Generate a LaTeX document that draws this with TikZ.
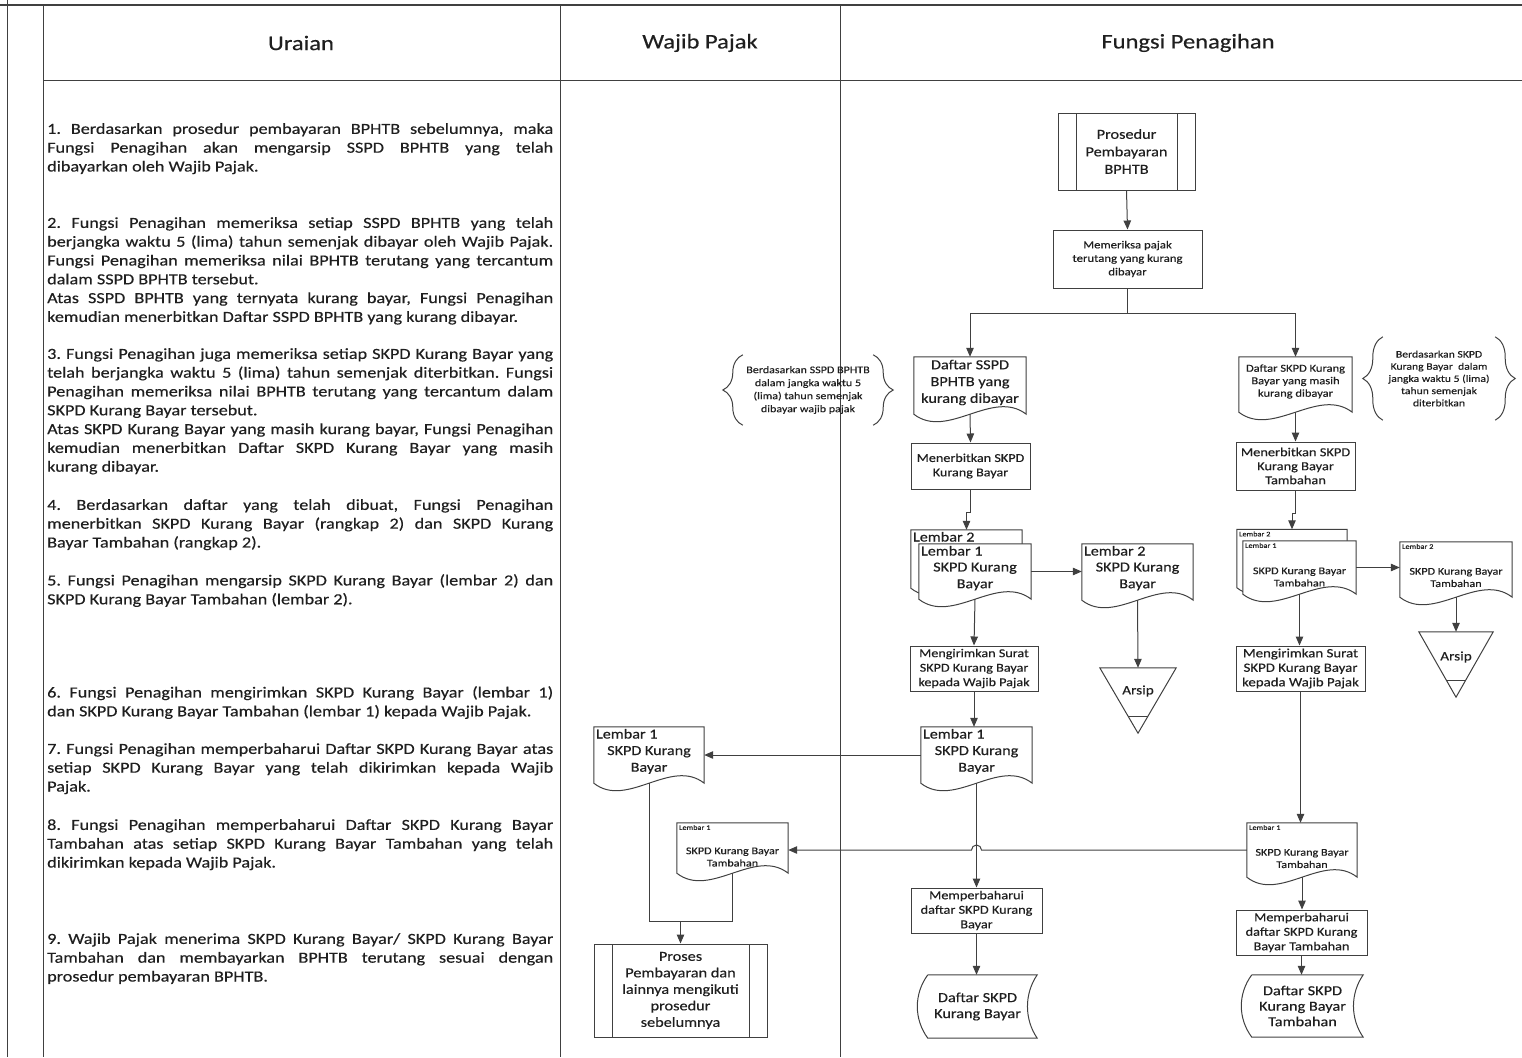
\documentclass[tikz,border=0pt]{standalone}
\usepackage{fontspec}
\setmainfont{Carlito}[FakeStretch=1.18, FakeBold=0.35]
\usetikzlibrary{arrows.meta, calc, backgrounds, decorations.pathreplacing}

\definecolor{ink}{HTML}{1F1F1F}
\definecolor{rule}{HTML}{404040}

\newcommand{\fsz}[2]{\fontsize{#1}{#2}\selectfont}
\frenchspacing

% document sheet with a wavy bottom
\newcommand{\docline}[1]{%
  \draw[flow, fill=white] (#1.north west) -- (#1.north east) -- (#1.south east)
    .. controls ([yshift=26pt]$(#1.south east)!0.3!(#1.south west)$)
    and ([yshift=-26pt]$(#1.south east)!0.7!(#1.south west)$) .. (#1.south west) -- cycle;}

% stored data
\newcommand{\storeline}[1]{%
  \draw[flow] (#1.north west) -- (#1.north east)
    .. controls ($(#1.north east)!0.3!(#1.south east)+(-13pt,0)$)
    and ($(#1.north east)!0.7!(#1.south east)+(-13pt,0)$) .. (#1.south east)
    -- (#1.south west)
    .. controls ($(#1.south west)!0.3!(#1.north west)+(-14pt,0)$)
    and ($(#1.south west)!0.7!(#1.north west)+(-14pt,0)$) .. (#1.north west);}

% archive triangle
\newcommand{\arsipline}[1]{%
  \draw[flow, fill=white] (#1.north west) -- (#1.north east) -- (#1.south) -- cycle;
  \draw[flow] ($(#1.north west)!0.75!(#1.south)$) -- ($(#1.north east)!0.75!(#1.south)$);}

\tikzset{
  frame/.style={draw=rule, line width=0.9pt},
  flow/.style={draw=rule, line width=1pt},
  arr/.style={flow, -{Triangle[length=9pt, width=7.5pt]}},
  hdr/.style={font=\fsz{20.8}{25}, text=ink},
  para/.style={anchor=north west, inner sep=0pt, text width=506pt, align=justify,
    font=\fsz{15.4}{18.8}, text=ink},
  box/.style={draw=rule, line width=1pt, fill=white, align=center, inner sep=1pt, text=ink},
  proc/.style={box, path picture={
    \draw[flow] ([xshift=18pt]path picture bounding box.north west) -- ([xshift=18pt]path picture bounding box.south west)
      ([xshift=-18pt]path picture bounding box.north east) -- ([xshift=-18pt]path picture bounding box.south east);}},
  doc/.style={inner sep=0pt, align=center, text=ink},
  store/.style={inner sep=0pt, align=center, text=ink},
  arsip/.style={inner sep=0pt},
  lem/.style={anchor=north west, inner sep=2pt, text=ink},
  body/.style={align=center, inner sep=0pt, text=ink},
  note/.style={inner sep=0pt, align=center, text=ink},
  brace/.style={flow, decorate, decoration={brace, amplitude=20pt}},
}

\begin{document}
\begin{tikzpicture}[x=1pt, y=-1pt]
  \useasboundingbox (0,0) rectangle (1522,1057);

  % ==========================================
  % 1. TABLE FRAME AND HEADERS
  % ==========================================
  \draw[frame, line width=1.8pt] (0,5) -- (1522,5);
  \draw[frame] (7,0) -- (7,1057);
  \draw[frame] (43,5) -- (43,1057);
  \draw[frame] (560,5) -- (560,1057);
  \draw[frame] (840,5) -- (840,1057);
  \draw[frame] (43,80) -- (1522,80);

  \node[hdr] (hUraian) at (301,43) {Uraian};
  \node[hdr] (hWajib) at (700,43) {Wajib Pajak};
  \node[hdr] (hFungsi) at (1188,43) {Fungsi Penagihan};

  % ==========================================
  % 2. URAIAN
  % ==========================================
  \node[para] (u1) at (47,123) {1. Berdasarkan prosedur pembayaran BPHTB sebelumnya, maka\linebreak
    Fungsi Penagihan akan mengarsip SSPD BPHTB yang telah\linebreak
    dibayarkan oleh Wajib Pajak.};
  \node[para] (u2) at (47,217) {2. Fungsi Penagihan memeriksa setiap SSPD BPHTB yang telah\linebreak
    berjangka waktu 5 (lima) tahun semenjak dibayar oleh Wajib Pajak.\linebreak
    Fungsi Penagihan memeriksa nilai BPHTB terutang yang tercantum\linebreak
    dalam SSPD BPHTB tersebut.\\
    Atas SSPD BPHTB yang ternyata kurang bayar, Fungsi Penagihan\linebreak
    kemudian menerbitkan Daftar SSPD BPHTB yang kurang dibayar.};
  \node[para] (u3) at (47,348) {3. Fungsi Penagihan juga memeriksa setiap SKPD Kurang Bayar yang\linebreak
    telah berjangka waktu 5 (lima) tahun semenjak diterbitkan. Fungsi\linebreak
    Penagihan memeriksa nilai BPHTB terutang yang tercantum dalam\linebreak
    SKPD Kurang Bayar tersebut.\\
    Atas SKPD Kurang Bayar yang masih kurang bayar, Fungsi Penagihan\linebreak
    kemudian menerbitkan Daftar SKPD Kurang Bayar yang masih\linebreak
    kurang dibayar.};
  \node[para] (u4) at (47,499) {4. Berdasarkan daftar yang telah dibuat, Fungsi Penagihan\linebreak
    menerbitkan SKPD Kurang Bayar (rangkap 2) dan SKPD Kurang\linebreak
    Bayar Tambahan (rangkap 2).};
  \node[para] (u5) at (47,574) {5. Fungsi Penagihan mengarsip SKPD Kurang Bayar (lembar 2) dan\linebreak
    SKPD Kurang Bayar Tambahan (lembar 2).};
  \node[para] (u6) at (47,686) {6. Fungsi Penagihan mengirimkan SKPD Kurang Bayar (lembar 1)\linebreak
    dan SKPD Kurang Bayar Tambahan (lembar 1) kepada Wajib Pajak.};
  \node[para] (u7) at (47,743) {7. Fungsi Penagihan memperbaharui Daftar SKPD Kurang Bayar atas\linebreak
    setiap SKPD Kurang Bayar yang telah dikirimkan kepada Wajib\linebreak
    Pajak.};
  \node[para] (u8) at (47,819) {8. Fungsi Penagihan memperbaharui Daftar SKPD Kurang Bayar\linebreak
    Tambahan atas setiap SKPD Kurang Bayar Tambahan yang telah\linebreak
    dikirimkan kepada Wajib Pajak.};
  \node[para] (u9) at (47,933) {9. Wajib Pajak menerima SKPD Kurang Bayar/ SKPD Kurang Bayar\linebreak
    Tambahan dan membayarkan BPHTB terutang sesuai dengan\linebreak
    prosedur pembayaran BPHTB.};

  % ==========================================
  % 3. FUNGSI PENAGIHAN
  % ==========================================
  \node[proc, minimum width=137pt, minimum height=77pt, font=\fsz{13.8}{17.5}] (p1) at (1126.5,151.5)
    {Prosedur\\Pembayaran\\BPHTB};
  \node[box, minimum width=149pt, minimum height=58pt, font=\fsz{10.8}{13.5}] (mp) at (1127.5,259)
    {Memeriksa pajak\\terutang yang kurang\\dibayar};

  % left branch: SKPD Kurang Bayar
  \node[doc, minimum width=112pt, minimum height=57pt,
    label={[body, font=\fsz{13.8}{16.8}, yshift=3pt]center:Daftar SSPD\\BPHTB yang\\kurang dibayar}] (d1) at (970,385.5) {};
  \node[note, minimum width=130pt, minimum height=70pt, font=\fsz{10.2}{13}] (bt1) at (808,390)
    {Berdasarkan SSPD BPHTB\\dalam jangka waktu 5\\(lima) tahun semenjak\\dibayar wajib pajak};
  \node[box, minimum width=119pt, minimum height=46pt, font=\fsz{12}{14.4}] (mskb) at (970.5,466)
    {Menerbitkan SKPD\\Kurang Bayar};
  \node[doc, minimum width=111pt, minimum height=58pt,
    label={[lem, font=\fsz{13.7}{16.7}]north west:Lembar 2}] (skpdb) at (966.5,559) {};
  \node[doc, minimum width=112pt, minimum height=55pt,
    label={[lem, font=\fsz{13.7}{16.7}]north west:Lembar 1},
    label={[body, font=\fsz{13.7}{16.7}, yshift=-5pt]center:SKPD Kurang\\Bayar}] (skpdf) at (975,571.5) {};
  \node[doc, minimum width=111pt, minimum height=56pt,
    label={[lem, font=\fsz{13.7}{16.7}]north west:Lembar 2},
    label={[body, font=\fsz{13.7}{16.7}, yshift=-4.5pt]center:SKPD Kurang\\Bayar}] (skpd2) at (1137.5,572) {};
  \node[arsip, minimum width=76pt, minimum height=65pt,
    label={[body, font=\fsz{13}{15}, yshift=9.5pt]center:Arsip}] (ars1) at (1138,700.5) {};
  \node[box, minimum width=128pt, minimum height=45pt, font=\fsz{12}{14.5}] (kirim1) at (974,668.5)
    {Mengirimkan Surat\\SKPD Kurang Bayar\\kepada Wajib Pajak};
  \node[doc, minimum width=111pt, minimum height=56pt,
    label={[lem, font=\fsz{13.7}{16.7}]north west:Lembar 1},
    label={[body, font=\fsz{13.7}{16.7}, yshift=-5pt]center:SKPD Kurang\\Bayar}] (kb3) at (976.5,755) {};
  \node[box, minimum width=131pt, minimum height=45pt, font=\fsz{12.1}{14.5}] (upd1) at (976.5,910.5)
    {Memperbaharui\\daftar SKPD Kurang\\Bayar};
  \node[store, minimum width=109pt, minimum height=63pt,
    label={[body, font=\fsz{13.8}{16}, xshift=-5pt]center:Daftar SKPD\\Kurang Bayar}] (dsk1) at (982.5,1006.5) {};

  % right branch: SKPD Kurang Bayar Tambahan
  \node[doc, minimum width=113pt, minimum height=55pt,
    label={[body, font=\fsz{10.6}{12.5}, yshift=3pt]center:Daftar SKPD Kurang\\Bayar yang masih\\kurang dibayar}] (dk) at (1295.5,384.5) {};
  \node[note, minimum width=112pt, minimum height=83pt, font=\fsz{9.9}{12.2}] (bt2) at (1439,378.5)
    {Berdasarkan SKPD\\Kurang Bayar\ \ dalam\\jangka waktu 5 (lima)\\tahun semenjak\\diterbitkan};
  \node[box, minimum width=119pt, minimum height=48pt, font=\fsz{12.2}{14}] (mskbt) at (1295.5,466)
    {Menerbitkan SKPD\\Kurang Bayar\\Tambahan};
  \node[doc, minimum width=110pt, minimum height=58pt,
    label={[lem, font=\fsz{7}{8}]north west:Lembar 2}] (kbtb) at (1292,558.5) {};
  \node[doc, minimum width=113pt, minimum height=53pt,
    label={[lem, font=\fsz{7}{8}]north west:Lembar 1},
    label={[body, font=\fsz{10.3}{12.3}, yshift=-9.5pt]center:SKPD Kurang Bayar\\Tambahan}] (kbtf) at (1299.5,567.5) {};
  \node[doc, minimum width=112pt, minimum height=55pt,
    label={[lem, font=\fsz{7}{8}]north west:Lembar 2},
    label={[body, font=\fsz{10.3}{12.3}, yshift=-8pt]center:SKPD Kurang Bayar\\Tambahan}] (kbt2) at (1456,569.5) {};
  \node[arsip, minimum width=74pt, minimum height=65pt,
    label={[body, font=\fsz{13}{15}, yshift=7.5pt]center:Arsip}] (ars2) at (1456,664.5) {};
  \node[box, minimum width=129pt, minimum height=45pt, font=\fsz{12.6}{14.5}] (kirim2) at (1300.5,668.5)
    {Mengirimkan Surat\\SKPD Kurang Bayar\\kepada Wajib Pajak};
  \node[doc, minimum width=110pt, minimum height=54pt,
    label={[lem, font=\fsz{7}{8}]north west:Lembar 1},
    label={[body, font=\fsz{10.3}{12.3}, yshift=-8.5pt]center:SKPD Kurang Bayar\\Tambahan}] (kbt1) at (1302,850) {};
  \node[box, minimum width=131pt, minimum height=45pt, font=\fsz{12.1}{14.5}] (upd2) at (1301.5,932.5)
    {Memperbaharui\\daftar SKPD Kurang\\Bayar Tambahan};
  \node[store, minimum width=111pt, minimum height=62pt,
    label={[body, font=\fsz{13.8}{15.5}, xshift=-5pt]center:Daftar SKPD\\Kurang Bayar\\Tambahan}] (dsk2) at (1307.5,1006) {};

  % ==========================================
  % 4. WAJIB PAJAK
  % ==========================================
  \node[doc, minimum width=110pt, minimum height=56pt,
    label={[lem, font=\fsz{13.7}{16.7}]north west:Lembar 1},
    label={[body, font=\fsz{13.7}{16.7}, yshift=-5pt]center:SKPD Kurang\\Bayar}] (wp1) at (649,755) {};
  \node[doc, minimum width=111pt, minimum height=50pt,
    label={[lem, font=\fsz{7}{8}]north west:Lembar 1},
    label={[body, font=\fsz{10.3}{12.3}, yshift=-9pt]center:SKPD Kurang Bayar\\Tambahan}] (wp2) at (732.5,848) {};
  \node[proc, minimum width=173pt, minimum height=93pt, font=\fsz{13.8}{16.5}] (pp) at (680.5,990.5)
    {Proses\\Pembayaran dan\\lainnya mengikuti\\prosedur\\sebelumnya};

  % ==========================================
  % 5. CONNECTORS
  % ==========================================
  \draw[arr] (p1.south) -- (mp.north);
  \draw[flow] (mp.south) -- ++(0,25) coordinate (split);
  \draw[arr] (split) -| (d1.north);
  \draw[arr] (split) -| (dk.north);

  \draw[arr] (d1.south) -- (mskb.north);
  \draw[arr] (mskb.south) -- ++(0,23) -| (skpdb.north);
  \draw[arr] (skpdf.east) -- (skpdf.east -| skpd2.west);
  \draw[arr] (skpd2.south) -- (ars1.north);
  \draw[arr] (skpdf.south) -- (kirim1.north);
  \draw[arr] (kirim1.south) -- (kirim1.south |- kb3.north);
  \draw[arr] (kb3.west) -- (kb3.west -| wp1.east);
  \draw[arr] (kb3.south) -- (upd1.north);
  \draw[arr] (upd1.south) -- (upd1.south |- dsk1.north);

  \draw[arr] (dk.south) -- (mskbt.north);
  \draw[arr] (mskbt.south) -- ++(0,23) -| (kbtb.north);
  \draw[arr] (kbtf.east) -- (kbtf.east -| kbt2.west);
  \draw[arr] (kbt2.south) -- (ars2.north);
  \draw[arr] (kbtf.south) -- (kbtf.south |- kirim2.north);
  \draw[arr] (kirim2.south) -- (kirim2.south |- kbt1.north);
  \draw[arr] (kbt1.south) -- (kbt1.south |- upd2.north);
  \draw[arr] (upd2.south) -- (upd2.south |- dsk2.north);
  % line hop over the Kurang Bayar flow
  \draw[arr] (kbt1.west) -- ($(kbt1.west -| kb3.south)+(5pt,0)$)
    arc[start angle=0, end angle=180, radius=5pt] -- (kbt1.west -| wp2.east);

  \coordinate (join) at ($(pp.north)+(0,-22)$);
  \draw[flow] (wp1.south) |- (join -| wp2.south) -- (wp2.south);
  \draw[arr] (join) -- (pp.north);

  % braces round the notes
  \draw[brace] (bt1.south west) -- (bt1.north west);
  \draw[brace] (bt1.north east) -- (bt1.south east);
  \draw[brace] (bt2.south west) -- (bt2.north west);
  \draw[brace] (bt2.north east) -- (bt2.south east);

  % ==========================================
  % 6. SHAPE OUTLINES (behind the text)
  % ==========================================
  \begin{scope}[on background layer]
    \foreach \nm in {d1, skpdb, skpdf, skpd2, kb3, dk, kbtb, kbtf, kbt2, kbt1, wp1, wp2}
      {\docline{\nm}}
    \storeline{dsk1}
    \storeline{dsk2}
    \arsipline{ars1}
    \arsipline{ars2}
  \end{scope}

\end{tikzpicture}
\end{document}
